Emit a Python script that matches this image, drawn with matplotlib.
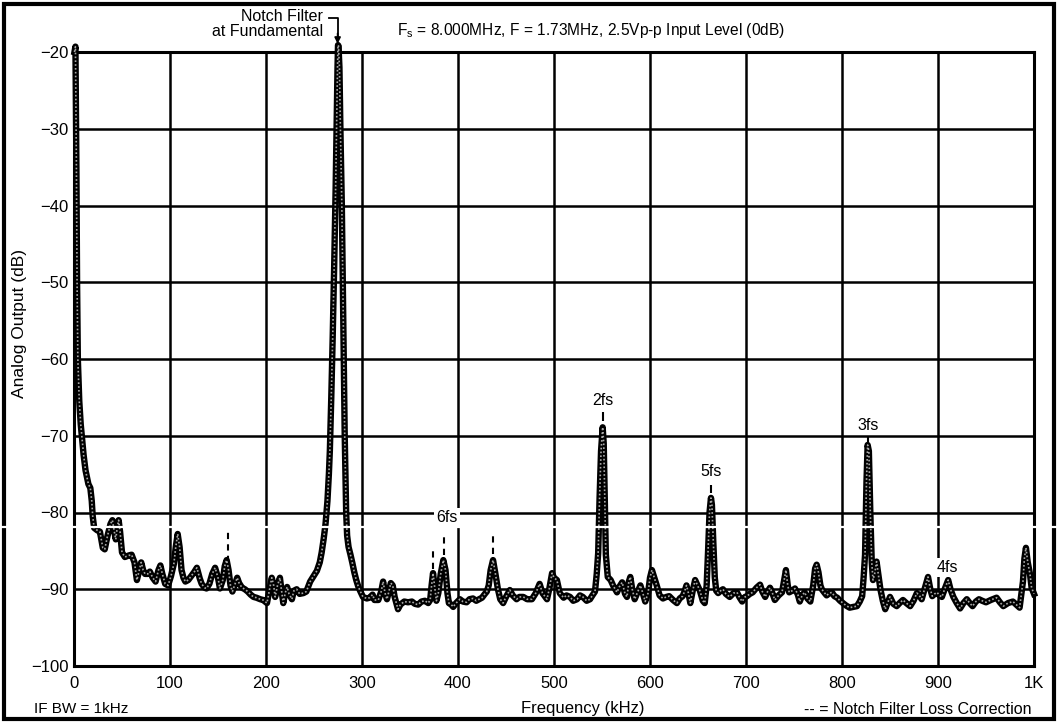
"""Spectrum of DAC analog output with notch filter at the fundamental."""
import numpy as np
import matplotlib
matplotlib.use("Agg")
import matplotlib.pyplot as plt
from matplotlib.lines import Line2D
from matplotlib.patches import Rectangle

plt.rcParams.update({
    "font.family": ["Liberation Sans", "DejaVu Sans"],
    "font.size": 11.5,
    "mathtext.fontset": "custom",
    "mathtext.rm": "Liberation Sans",
})

# trace: frequency (kHz) / level (dB)
freq_khz = [
    0.5, 1.5, 2.5, 3.2, 4, 5.5, 7, 8.5, 10, 12, 15, 17, 18.5, 19.5, 21, 24, 27, 30, 32, 35,
    38, 40, 42, 43.5, 45, 46.5, 48, 50, 53, 57, 60, 63, 65.5, 68, 70, 72, 74, 77, 79, 82,
    85, 88, 90, 92, 95, 98, 101, 104, 106, 108, 110, 112, 114, 116, 119, 122, 125, 128, 131, 133,
    136, 138, 141, 144, 147, 150, 152, 155, 157, 159, 161, 163, 165, 168, 170, 172, 175, 178, 181, 184,
    187, 190, 194, 197, 201, 203, 206, 208, 209.5, 212, 214.5, 216, 218, 220, 222, 224, 227, 229, 232, 235,
    239, 242, 246, 250, 253, 256, 258, 260, 262, 264, 265.5, 266.5, 268, 269.5, 271, 272.5, 273.5, 274.5, 275, 275.5,
    276.5, 277.5, 279, 280, 281, 282, 283, 283.5, 284.5, 286, 288, 290, 292, 294, 296, 298, 301, 305, 308, 311,
    313, 317, 320, 322, 324, 326, 328, 330, 332, 334, 337.5, 340, 344, 348, 352, 355, 358.5, 362, 365.5, 369,
    371, 372.5, 374, 375.5, 377.5, 379.5, 382, 384.7, 387, 389, 390.5, 393, 395, 398, 402, 405, 409, 412, 415.6, 419,
    422, 425, 428, 430, 432, 434, 436.5, 439, 441.6, 444, 447, 450, 454, 457, 461, 464, 468, 472, 477, 481,
    485, 488, 492.7, 495, 498, 500, 503, 506, 510, 513, 516.7, 520, 524, 527, 530, 534, 537.5, 540, 542.7, 544.5,
    546, 547.5, 549, 550.7, 551.8, 553, 554, 556, 559, 561.5, 565.6, 568, 571, 574, 576, 578, 579.5, 581.5, 584, 587,
    590, 592.5, 595, 598, 600, 602, 604.5, 607, 610, 613.5, 617, 620, 624, 628, 631, 634, 636, 638, 640, 642,
    644.5, 647, 649.5, 652, 655, 657, 659, 660.5, 662, 663.5, 664.5, 666, 667.5, 669, 671, 673.5, 676, 679, 683, 687,
    690.6, 693, 696, 699, 701, 704, 707, 711, 714.6, 717, 720, 722.5, 725, 727.5, 730, 734, 737.5, 739.5, 741.6, 743.5,
    745, 748, 751, 754, 756, 758.5, 761, 764, 767, 770, 772, 773.6, 775.5, 777.5, 779, 782, 784, 787, 789.6, 792,
    795, 798, 801, 804, 808, 812, 815.6, 818.5, 821, 822.5, 824, 825.5, 826.7, 828, 829.5, 831, 832.3, 834, 836, 838,
    840, 842.5, 845, 847.5, 850, 853.5, 857, 860, 863.5, 867, 871, 874.5, 878, 880.5, 883, 886, 889.6, 892, 894, 896.5,
    899, 901.5, 904, 907.5, 910.6, 913, 916, 919.5, 923, 926.5, 930, 933, 936, 939.5, 942.7, 946, 950, 955, 961, 964.5,
    968, 973, 978, 981.5, 985, 987, 988.5, 990, 991.6, 993.5, 995.8, 997.5, 1000,
]
level_db = [
    -20, -19.3, -35, -50, -60, -65.5, -68.5, -70.5, -72.5, -74.5, -76.3, -76.8, -78.5, -80.5, -82, -82.3, -82.5, -84.6, -84.8, -83,
    -81.5, -81, -82.5, -83.5, -82, -81, -82.5, -85.2, -85.8, -85.6, -85.5, -86.5, -88.8, -87.5, -86.5, -87.5, -88, -88, -87.7, -88.5,
    -89, -87.5, -86.9, -88, -89.3, -89.5, -88.3, -86.7, -84.5, -82.8, -84.5, -87.5, -88.5, -89, -88.8, -88.3, -87.8, -87.2, -88.6, -89.3,
    -89.8, -89.9, -89.3, -88, -87.2, -88.5, -89.9, -88.8, -87, -86.2, -87.5, -89.5, -90.3, -89.2, -88.5, -89.2, -89.8, -90, -90.3, -90.7,
    -91, -91.1, -91.3, -91.4, -91.8, -90.5, -88.5, -89.5, -91, -89.5, -88.5, -90, -91.8, -90.5, -89.7, -90.6, -91.3, -90.2, -90, -90.6,
    -90.5, -90.3, -89, -88.2, -87.6, -86.5, -85.2, -83.5, -81.5, -78.5, -75, -72, -65, -57, -48, -38, -30, -22, -19.1, -19.2,
    -22, -30, -40, -50, -60, -70, -77, -80, -83, -84.5, -85.5, -86.6, -87.8, -88.8, -89.6, -90.2, -91, -91.2, -91.1, -90.7,
    -91.4, -91.4, -90.3, -89, -90.5, -91.3, -90.3, -89.2, -89.5, -91, -92.6, -92, -91.6, -91.7, -91.6, -91.9, -92, -91.6, -91.5, -91.8,
    -91.4, -89.5, -87.9, -89.5, -91.5, -90.5, -88, -86.2, -87.5, -90.5, -91.8, -92, -92.3, -91.8, -91.3, -91.6, -91.7, -91.3, -91.2, -91.5,
    -91.3, -91.1, -90.6, -90.3, -89.5, -87.5, -86.2, -88, -90, -91.3, -91.8, -91, -90.1, -90.8, -91.3, -91, -91, -91.3, -91.3, -90.5,
    -89.3, -90.5, -91.3, -90, -87.9, -88.5, -88.8, -90.5, -91.1, -90.8, -91, -91.5, -91.3, -90.8, -91, -91.5, -91.3, -90.8, -90.3, -88,
    -85.3, -78, -72, -68.9, -71, -79, -85.5, -88.4, -88.8, -89.5, -90.4, -89.7, -89.1, -90.6, -91, -89, -88.4, -90, -91.3, -90.4,
    -89.5, -90.5, -91.6, -90.5, -88.5, -87.5, -88.5, -89.5, -90.8, -91.2, -91, -90.9, -91.4, -91.8, -91.2, -90.9, -90.3, -89.5, -90.5, -91.8,
    -90.2, -88.8, -89.5, -90.2, -91.5, -91.8, -89.5, -85, -80, -78.1, -79, -84, -88.5, -90.2, -90.5, -90.2, -90, -90.6, -91, -90.5,
    -90.4, -91, -91.6, -91, -90.9, -90.6, -90.4, -89.8, -89.4, -90.3, -91, -90.3, -89.8, -90.5, -91.4, -90.8, -90.4, -89, -87.5, -89.5,
    -90.4, -90.2, -89.9, -90.7, -91.6, -90.8, -90.4, -91.2, -91.6, -89.5, -87.3, -86.8, -87.8, -89.5, -90, -90.5, -90.8, -90.5, -90.4, -90.9,
    -91.1, -91.5, -91.8, -92.1, -92.4, -92.3, -92.2, -91.6, -90.9, -88.5, -85.5, -76, -71.2, -72, -80, -86.5, -88.8, -88, -86.4, -88.2,
    -90, -91.5, -92.6, -91.8, -91, -91.9, -92.2, -91.8, -91.4, -91.8, -92.2, -91.5, -90.5, -90.8, -91.3, -90, -88.4, -90, -90.9, -90.6,
    -90.4, -90.8, -91, -89.8, -88.8, -90, -91, -91.8, -92.5, -91.8, -91.3, -91.8, -92.2, -91.6, -91.3, -91.5, -91.7, -91.4, -91.1, -91.7,
    -92.2, -91.8, -91.6, -92, -92.4, -90.5, -89, -86, -84.6, -86.5, -88, -89.8, -90.6,
]

# notch filter loss correction markers: (freq, bottom dB, top dB)
corr_freq = [160, 374, 385, 436.5]
corr_lo = [-86.4, -87.3, -85.6, -85.4]
corr_hi = [-82.6, -84.8, -82.8, -82.8]

# harmonic labels
harm_names = ["2fs", "5fs", "3fs", "6fs", "4fs"]
harm_x = [550.7, 664.0, 827.0, 388.5, 910.0]
harm_y = [-65.4, -74.6, -68.6, -80.6, -87.2]
# short ticks between label and peak
tick_x = [550.7, 663.5, 826.7]
tick_lo = [-68.1, -77.4, -70.8]
tick_hi = [-66.9, -76.4, -70.2]

x_ticks = [0, 100, 200, 300, 400, 500, 600, 700, 800, 900, 1000]
x_labels = ["0", "100", "200", "300", "400", "500", "600", "700", "800", "900", "1K"]
y_ticks = [-100, -90, -80, -70, -60, -50, -40, -30, -20]

W, H = 1058, 723
fig = plt.figure(figsize=(W / 100, H / 100), dpi=100)
ax = fig.add_axes([74 / W, 1 - 666 / H, (1034 - 74) / W, (666 - 52) / H])

ax.set_xlim(0, 1000)
ax.set_ylim(-100, -20)
ax.set_xticks(x_ticks)
ax.set_xticklabels(x_labels)
ax.set_yticks(y_ticks)
ax.set_yticklabels([f"\u2212{abs(v)}" for v in y_ticks])
ax.tick_params(length=0, pad=4, labelsize=12)
ax.tick_params(axis="x", pad=7)
ax.grid(True, color="black", lw=1.8)
ax.set_axisbelow(True)
for s in ax.spines.values():
    s.set_linewidth(2.2)

ax.plot(freq_khz, level_db, color="black", lw=4.6, solid_joinstyle="round",
        clip_on=False, zorder=3)
ax.plot(freq_khz, level_db, color="#a8a8a8", lw=1.2, ls=(0, (1, 1.3)),
        clip_on=False, zorder=4)

ax.vlines(corr_freq, corr_lo, corr_hi, colors="black", lw=1.5,
          linestyles=(0, (3, 2.5)), zorder=3)
ax.vlines(tick_x, tick_lo, tick_hi, colors="black", lw=1.5, zorder=3)

for name, hx, hy in zip(harm_names, harm_x, harm_y):
    ax.text(hx, hy, name, ha="center", va="center", fontsize=11.5, zorder=5,
            bbox=dict(facecolor="white", edgecolor="none", pad=1.5))

# notch annotation
ax.text(0.259, 1.045, "Notch Filter\nat Fundamental", transform=ax.transAxes,
        ha="right", va="center", fontsize=11.5, linespacing=1.0)
ax.plot([266, 274.6, 274.6], [-15.6, -15.6, -18.0], color="black", lw=1.3,
        clip_on=False, zorder=5)
ax.annotate("", xy=(274.6, -19.3), xytext=(274.6, -17.2),
            arrowprops=dict(arrowstyle="-|>", color="black", lw=1.2,
                            mutation_scale=9), annotation_clip=False)

fig.text(397 / W, 1 - 30 / H,
         r"F$_{\rm s}$ = 8.000MHz, F = 1.73MHz, 2.5Vp-p Input Level (0dB)",
         ha="left", va="center", fontsize=11.2)
fig.text(20 / W, 1 - 323 / H, "Analog Output (dB)", rotation=90,
         ha="center", va="center", fontsize=12.5)
fig.text(583 / W, 1 - 709 / H, "Frequency (kHz)", ha="center", va="center",
         fontsize=12)
fig.text(34 / W, 1 - 709 / H, "IF BW = 1kHz", ha="left", va="center",
         fontsize=11)
fig.text(1032 / W, 1 - 709 / H, "-- = Notch Filter Loss Correction",
         ha="right", va="center", fontsize=11.5)

# outer frame and the white scan line running across the page
fig.add_artist(Rectangle((4 / W, 4 / H), 1050 / W, 715 / H, transform=fig.transFigure,
                         fill=False, edgecolor="black", lw=3.0))
fig.add_artist(Line2D([0, 1], [1 - 527 / H, 1 - 527 / H], transform=fig.transFigure,
                      color="white", lw=1.6, zorder=10))

fig.savefig("out.png", dpi=100, facecolor="white")
